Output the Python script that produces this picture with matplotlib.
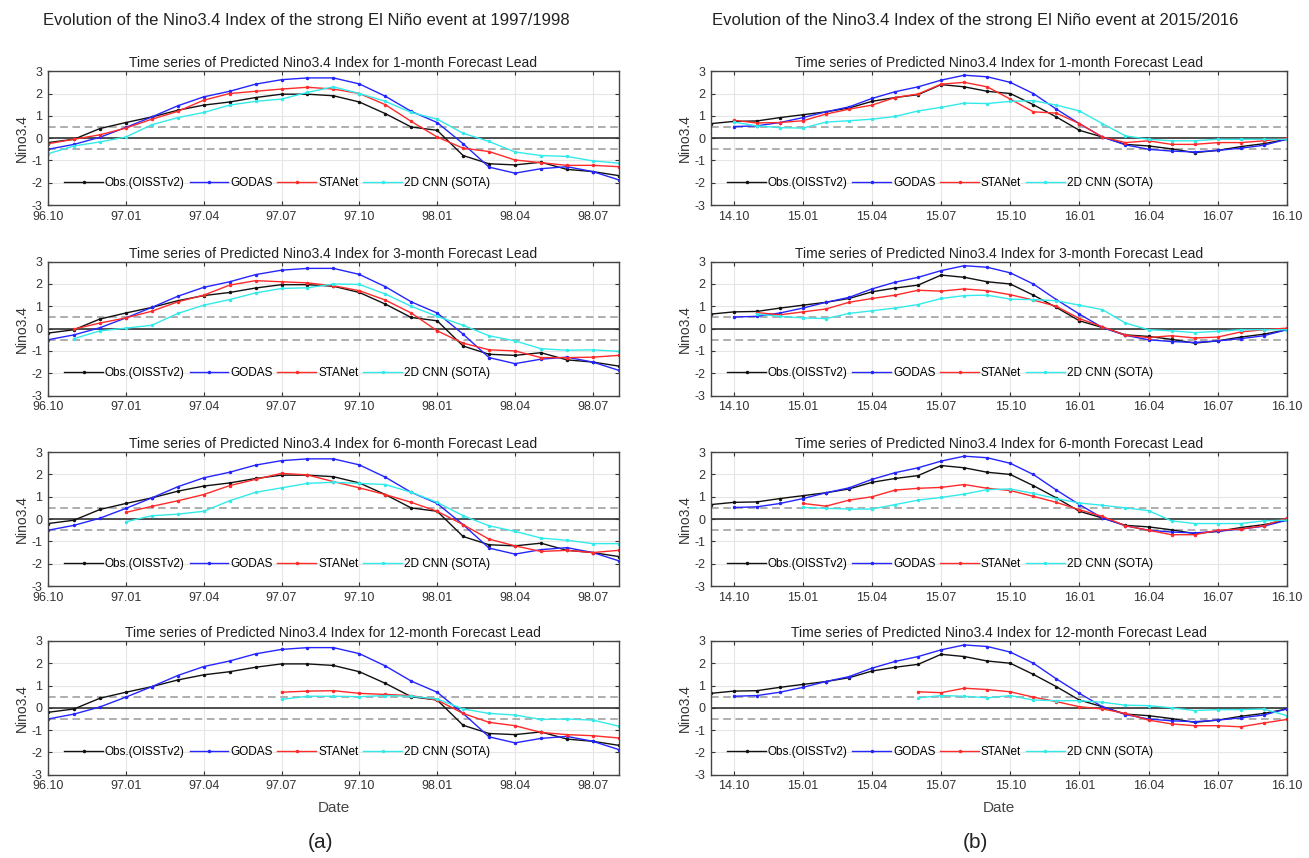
# -*- coding: utf-8 -*-
"""
Nino3.4 evolution, 1997/1998 and 2015/2016 El Nino events
"""
import matplotlib.pyplot as plt
import numpy as np

plt.rcParams['font.family'] = ['Liberation Sans', 'DejaVu Sans']
plt.rcParams['axes.unicode_minus'] = False
nan = np.nan

# ---- (a) 1997/1998, monthly from 96.10 to 98.08 ----
ticks_a = ['96.10', '97.01', '97.04', '97.07', '97.10', '98.01', '98.04', '98.07']
obs_a = [-0.2, -0.05, 0.43, 0.7, 0.95, 1.25, 1.48, 1.62, 1.82, 1.97, 1.97, 1.9,
         1.62, 1.1, 0.5, 0.35, -0.78, -1.15, -1.2, -1.08, -1.4, -1.5, -1.68]
godas_a = [-0.5, -0.28, 0.04, 0.48, 0.95, 1.45, 1.85, 2.1, 2.42, 2.62, 2.7, 2.7,
           2.43, 1.88, 1.2, 0.7, -0.25, -1.3, -1.57, -1.37, -1.28, -1.5, -1.87]
stanet_a_1 = [-0.25, -0.05, 0.15, 0.45, 0.85, 1.2, 1.7, 2.0, 2.1, 2.2, 2.28, 2.2,
              2.0, 1.5, 0.75, 0.05, -0.45, -0.6, -0.98, -1.1, -1.22, -1.22, -1.28]
cnn_a_1 = [-0.7, -0.35, -0.17, 0.05, 0.6, 0.92, 1.15, 1.48, 1.65, 1.75, 2.05, 2.3,
           2.0, 1.65, 1.15, 0.85, 0.22, -0.15, -0.62, -0.78, -0.82, -1.02, -1.12]
stanet_a_3 = [nan, -0.02, 0.25, 0.48, 0.78, 1.2, 1.5, 1.95, 2.15, 2.1, 2.05, 1.92,
              1.7, 1.28, 0.7, -0.1, -0.65, -0.95, -1.0, -1.3, -1.3, -1.28, -1.2]
cnn_a_3 = [nan, -0.45, -0.1, 0.02, 0.15, 0.68, 1.05, 1.3, 1.6, 1.8, 1.83, 2.0,
           1.98, 1.55, 1.0, 0.55, 0.15, -0.32, -0.55, -0.9, -0.97, -0.95, -1.02]
stanet_a_6 = [nan, nan, nan, 0.3, 0.57, 0.82, 1.1, 1.5, 1.78, 2.05, 1.98, 1.68,
              1.4, 1.1, 0.75, 0.35, -0.25, -0.9, -1.2, -1.45, -1.4, -1.5, -1.4]
cnn_a_6 = [nan, nan, nan, -0.12, 0.15, 0.22, 0.35, 0.82, 1.2, 1.4, 1.6, 1.65,
           1.6, 1.55, 1.2, 0.75, 0.15, -0.3, -0.55, -0.85, -0.95, -1.1, -1.1]
stanet_a_12 = [nan] * 9 + [0.7, 0.75, 0.77, 0.65, 0.6, 0.55, 0.35, -0.25, -0.65,
                           -0.8, -1.1, -1.2, -1.25, -1.35]
cnn_a_12 = [nan] * 9 + [0.38, 0.52, 0.52, 0.5, 0.55, 0.52, 0.4, -0.05, -0.25,
                        -0.32, -0.52, -0.5, -0.55, -0.82]

# ---- (b) 2015/2016, monthly from 14.09 to 16.10 ----
ticks_b = ['14.10', '15.01', '15.04', '15.07', '15.10', '16.01', '16.04', '16.07', '16.10']
obs_b = [0.65, 0.75, 0.77, 0.92, 1.05, 1.18, 1.35, 1.65, 1.82, 1.95, 2.4, 2.3, 2.1,
         2.0, 1.5, 0.95, 0.35, 0.05, -0.28, -0.35, -0.48, -0.65, -0.55, -0.38, -0.25, -0.05]
godas_b = [nan, 0.52, 0.55, 0.7, 0.92, 1.18, 1.4, 1.78, 2.08, 2.3, 2.6, 2.82, 2.75,
           2.5, 2.0, 1.3, 0.65, 0.05, -0.3, -0.5, -0.58, -0.62, -0.55, -0.45, -0.32, -0.05]
stanet_b_1 = [nan, 0.8, 0.68, 0.7, 0.78, 1.08, 1.3, 1.48, 1.82, 1.98, 2.42, 2.5, 2.3,
              1.75, 1.18, 1.12, 0.65, 0.05, -0.2, -0.12, -0.28, -0.28, -0.2, -0.2, -0.12, 0.0]
cnn_b_1 = [nan, 0.72, 0.55, 0.47, 0.45, 0.72, 0.78, 0.85, 0.97, 1.22, 1.38, 1.57, 1.55,
           1.65, 1.68, 1.48, 1.22, 0.65, 0.1, -0.05, -0.12, -0.12, -0.05, -0.05, -0.05, -0.05]
stanet_b_3 = [nan, nan, 0.72, 0.62, 0.75, 0.88, 1.18, 1.35, 1.5, 1.72, 1.68, 1.78, 1.7,
              1.52, 1.28, 1.0, 0.45, 0.08, -0.3, -0.4, -0.32, -0.42, -0.38, -0.15, -0.05, 0.02]
cnn_b_3 = [nan, nan, 0.65, 0.55, 0.48, 0.45, 0.68, 0.8, 0.92, 1.08, 1.35, 1.48, 1.5,
           1.32, 1.3, 1.25, 1.05, 0.85, 0.25, -0.05, -0.1, -0.18, -0.12, -0.05, -0.05, -0.05]
stanet_b_6 = [nan] * 4 + [0.7, 0.58, 0.85, 1.0, 1.3, 1.38, 1.42, 1.55, 1.38, 1.28, 1.02,
                          0.75, 0.42, 0.12, -0.3, -0.5, -0.7, -0.7, -0.5, -0.45, -0.3, 0.05]
cnn_b_6 = [nan] * 4 + [0.52, 0.48, 0.45, 0.45, 0.65, 0.85, 0.97, 1.12, 1.32, 1.35, 1.15,
                       0.92, 0.72, 0.62, 0.5, 0.38, -0.08, -0.2, -0.2, -0.2, -0.08, -0.05]
stanet_b_12 = [nan] * 9 + [0.72, 0.68, 0.88, 0.82, 0.72, 0.48, 0.28, 0.05, -0.05, -0.25,
                           -0.55, -0.72, -0.8, -0.8, -0.85, -0.68, -0.52]
cnn_b_12 = [nan] * 9 + [0.45, 0.55, 0.52, 0.45, 0.55, 0.35, 0.32, 0.32, 0.25, 0.12,
                        0.1, 0.0, -0.12, -0.08, -0.08, -0.05, -0.35]

leads = [1, 3, 6, 12]
stanet_a = [stanet_a_1, stanet_a_3, stanet_a_6, stanet_a_12]
cnn_a = [cnn_a_1, cnn_a_3, cnn_a_6, cnn_a_12]
stanet_b = [stanet_b_1, stanet_b_3, stanet_b_6, stanet_b_12]
cnn_b = [cnn_b_1, cnn_b_3, cnn_b_6, cnn_b_12]

names = ['Obs.(OISSTv2)', 'GODAS', 'STANet', '2D CNN (SOTA)']
colors = ['#111111', '#2525ff', '#ff2a2a', '#33eaea']


def draw_panel(ax, series, ticks, tick_start, lead, last):
    x = np.arange(len(series[0]))
    ax.grid(True, color='#e6e6e6', lw=0.8)
    ax.axhline(0.5, color='#999999', ls=(0, (5, 3)), lw=1.1)
    ax.axhline(-0.5, color='#999999', ls=(0, (5, 3)), lw=1.1)
    ax.axhline(0, color='#333333', lw=1.2)
    for s, name, c in zip(series, names, colors):
        ax.plot(x, s, color=c, lw=1.0, marker='.', ms=3, label=name)
    ax.set_xlim(0, len(x) - 1)
    ax.set_ylim(-3, 3)
    ax.set_yticks(range(-3, 4))
    ax.set_xticks(np.arange(tick_start, len(x), 3))
    ax.set_xticklabels(ticks)
    ax.tick_params(direction='in', top=True, right=True, length=3,
                   labelsize=9, colors='#333333', pad=4)
    for sp in ax.spines.values():
        sp.set_color('#444444')
        sp.set_linewidth(1.0)
    ax.set_ylabel('Nino3.4', fontsize=10, color='#333333', labelpad=2)
    ax.set_title('Time series of Predicted Nino3.4 Index for %d-month Forecast Lead' % lead,
                 fontsize=10, color='#222222', pad=3)
    ax.legend(loc='center left', bbox_to_anchor=(0.02, 0.167), ncol=4, frameon=False,
              fontsize=8.5, handlelength=3.3, handletextpad=0.15, columnspacing=0.4,
              borderaxespad=0)
    if last:
        ax.set_xlabel('Date', fontsize=11, color='#444444', labelpad=6)


fig = plt.figure(figsize=(13.09, 8.58), dpi=100)
bottoms = [0.761, 0.539, 0.317, 0.097]
for i, lead in enumerate(leads):
    ax1 = fig.add_axes([0.0367, bottoms[i], 0.436, 0.156])
    draw_panel(ax1, [obs_a, godas_a, stanet_a[i], cnn_a[i]], ticks_a, 0, lead, i == 3)
    ax2 = fig.add_axes([0.543, bottoms[i], 0.440, 0.156])
    draw_panel(ax2, [obs_b, godas_b, stanet_b[i], cnn_b[i]], ticks_b, 1, lead, i == 3)

fig.text(0.234, 0.976, 'Evolution of the Nino3.4 Index of the strong El Niño event at 1997/1998',
         ha='center', va='center', fontsize=12, color='#222222')
fig.text(0.745, 0.976, 'Evolution of the Nino3.4 Index of the strong El Niño event at 2015/2016',
         ha='center', va='center', fontsize=12, color='#222222')
fig.text(0.245, 0.018, '(a)', ha='center', va='center', fontsize=15, color='#222222')
fig.text(0.745, 0.018, '(b)', ha='center', va='center', fontsize=15, color='#222222')

plt.savefig('out.png', dpi=100)
plt.close()
